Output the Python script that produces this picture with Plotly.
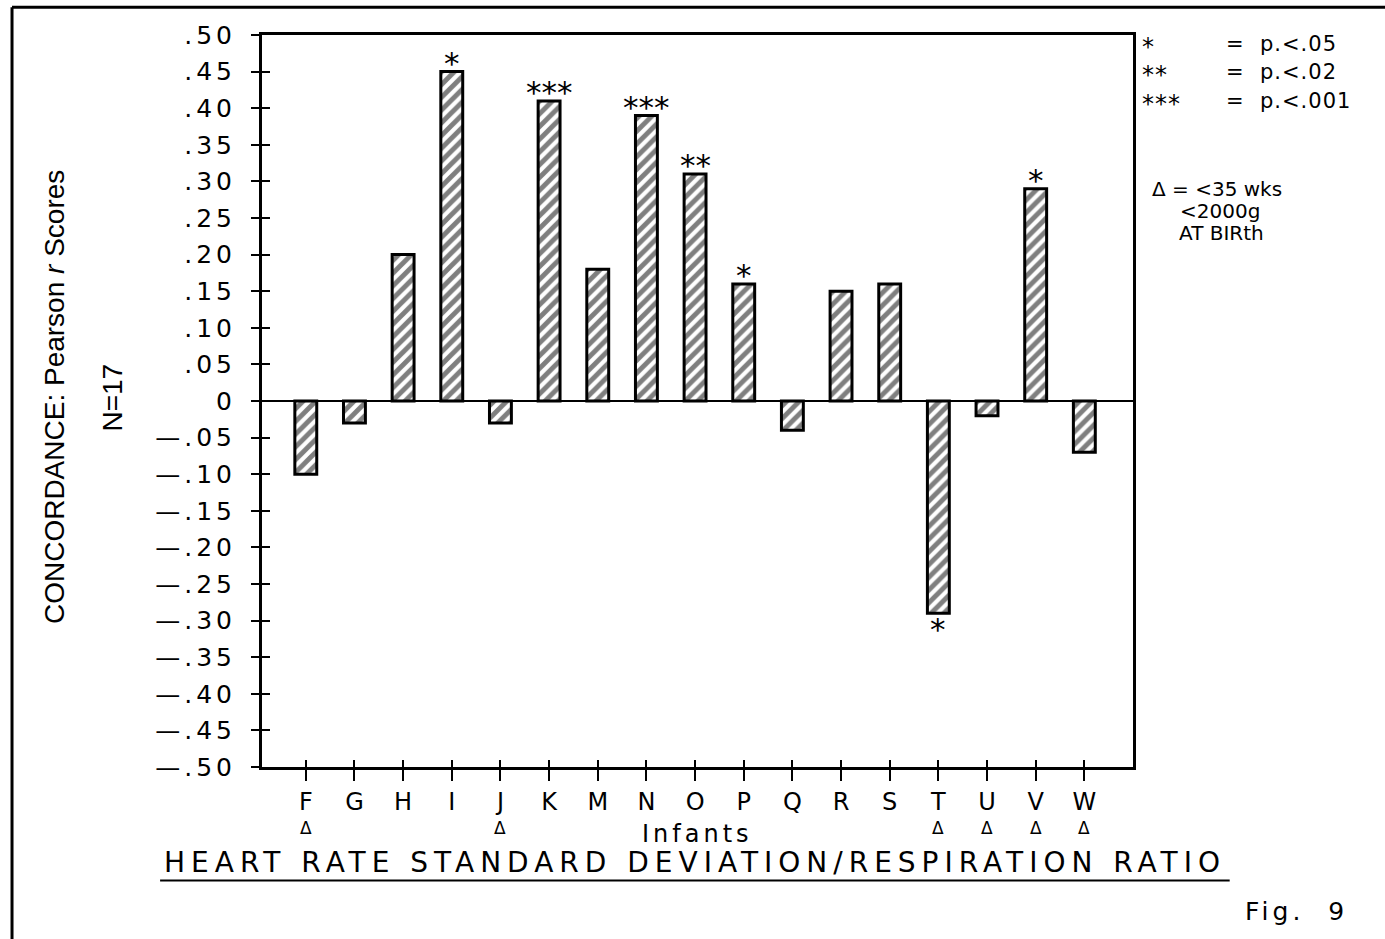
import plotly.graph_objects as go

infants = ["F", "G", "H", "I", "J", "K", "M", "N", "O", "P", "Q", "R", "S", "T", "U", "V", "W"]
r_scores = [-0.10, -0.03, 0.20, 0.45, -0.03, 0.41, 0.18, 0.39, 0.31, 0.16, -0.04, 0.15, 0.16, -0.29, -0.02, 0.29, -0.07]
significance = ["", "", "", "*", "", "***", "", "***", "**", "*", "", "", "", "*", "", "*", ""]
premature = [True, False, False, False, True, False, False, False, False, False, False, False, False, True, True, True, True]

y_tickvals = [0.50, 0.45, 0.40, 0.35, 0.30, 0.25, 0.20, 0.15, 0.10, 0.05, 0.0,
              -0.05, -0.10, -0.15, -0.20, -0.25, -0.30, -0.35, -0.40, -0.45, -0.50]
y_ticktext = [".50", ".45", ".40", ".35", ".30", ".25", ".20", ".15", ".10", ".05", "0",
              "—.05", "—.10", "—.15", "—.20", "—.25", "—.30", "—.35", "—.40", "—.45", "—.50"]

legend_stars = ["*", "**", "***"]
legend_texts = ["p.&lt;.05", "p.&lt;.02", "p.&lt;.001"]
legend_rows_y = [0.988, 0.949, 0.910]


def spaced(t, px):
    return f"<span style='letter-spacing:{px}px'>{t}</span>"


TICKFONT = dict(family="DejaVu Sans", size=25, color="black")
HAND = dict(family="DejaVu Sans", size=21, color="black")

fig = go.Figure()
fig.add_trace(go.Bar(
    x=infants, y=r_scores, width=0.45,
    marker=dict(color="white",
                line=dict(color="black", width=3),
                pattern=dict(shape="/", fgcolor="black", bgcolor="white", size=9, solidity=0.55)),
    showlegend=False, hoverinfo="x+y",
))
# invisible trace on the overlay axes (for crossing tick marks)
fig.add_trace(go.Scatter(x=infants, y=[0] * len(infants), xaxis="x2", yaxis="y2",
                         mode="markers", marker=dict(opacity=0), showlegend=False, hoverinfo="skip"))

# significance stars
for c, v, s in zip(infants, r_scores, significance):
    if s:
        fig.add_annotation(x=c, y=v, text=s, showarrow=False, xanchor="center",
                           yanchor="bottom" if v > 0 else "top",
                           yshift=-11 if v > 0 else 4,
                           font=dict(family="DejaVu Sans", size=31, color="black"))

# premature-birth markers under the infant letters
for c, p in zip(infants, premature):
    if p:
        fig.add_annotation(x=c, yref="paper", y=-0.0835, text="Δ", showarrow=False,
                           xanchor="center", yanchor="middle",
                           font=dict(family="DejaVu Sans", size=17, color="black"))

fig.update_layout(
    width=1385, height=939,
    margin=dict(l=262, r=252, t=35, b=172),
    paper_bgcolor="white", plot_bgcolor="white",
    xaxis=dict(
        range=[-0.9, 17.0], tickmode="array", tickvals=infants, ticktext=infants,
        showline=True, linecolor="black", linewidth=3, mirror=True,
        ticks="outside", ticklen=11, tickwidth=2, tickcolor="black",
        tickfont=dict(family="DejaVu Sans", size=24, color="black"),
        showgrid=False, zeroline=False, tickangle=0,
    ),
    xaxis2=dict(
        overlaying="x", side="bottom", matches="x", range=[-0.9, 17.0],
        tickmode="array", tickvals=infants, showticklabels=False,
        ticks="inside", ticklen=7, tickwidth=2, tickcolor="black",
        showline=False, showgrid=False, zeroline=False,
    ),
    yaxis=dict(
        range=[-0.5, 0.5], tickmode="array", tickvals=y_tickvals,
        ticktext=[spaced(t, 4) for t in y_ticktext],
        showline=True, linecolor="black", linewidth=3, mirror=True,
        ticks="outside", ticklen=8, tickwidth=2, tickcolor="black",
        tickfont=TICKFONT, ticklabelstandoff=10,
        showgrid=False, zeroline=True, zerolinecolor="black", zerolinewidth=2,
    ),
    yaxis2=dict(
        overlaying="y", side="left", matches="y", range=[-0.5, 0.5],
        tickmode="array", tickvals=y_tickvals, showticklabels=False,
        ticks="inside", ticklen=8, tickwidth=2, tickcolor="black",
        showline=False, showgrid=False, zeroline=False,
    ),
    showlegend=False,
)

# y-axis title lines
fig.add_annotation(xref="paper", yref="paper", x=-0.238, y=0.505, textangle=-90,
                   xanchor="center", yanchor="middle",
                   text="CONCORDANCE: Pearson <i>r</i> Scores", showarrow=False,
                   font=dict(family="Liberation Sans Narrow, Liberation Sans", size=28, color="black"))
fig.add_annotation(xref="paper", yref="paper", x=-0.172, y=0.505, textangle=-90,
                   xanchor="center", yanchor="middle",
                   text="N=17", showarrow=False,
                   font=dict(family="Liberation Sans Narrow, Liberation Sans", size=28, color="black"))

# x-axis titles
fig.add_annotation(xref="paper", yref="paper", x=0.4995, y=-0.092, text=spaced("Infants", 4),
                   showarrow=False, xanchor="center", yanchor="middle",
                   font=dict(family="DejaVu Sans", size=24, color="black"))
fig.add_annotation(xref="paper", yref="paper", x=0.497, y=-0.131,
                   text=spaced("HEART RATE STANDARD DEVIATION/RESPIRATION RATIO", 6),
                   showarrow=False, xanchor="center", yanchor="middle",
                   font=dict(family="DejaVu Sans", size=28, color="black"))
fig.add_shape(type="line", xref="paper", yref="paper", x0=-0.117, x1=1.111, y0=-0.155, y1=-0.155,
              line=dict(color="black", width=2))
fig.add_annotation(xref="paper", yref="paper", x=1.188, y=-0.198, text=spaced("Fig.  9", 4),
                   showarrow=False, xanchor="center", yanchor="middle",
                   font=dict(family="DejaVu Sans", size=25, color="black"))

# handwritten key
for s, t, yy in zip(legend_stars, legend_texts, legend_rows_y):
    fig.add_annotation(xref="paper", yref="paper", x=1.008, y=yy - 0.004, text=spaced(s, 1),
                       showarrow=False, xanchor="left", yanchor="middle",
                       font=dict(family="DejaVu Sans", size=24, color="black"))
    fig.add_annotation(xref="paper", yref="paper", x=1.117, y=yy, text="=", showarrow=False,
                       xanchor="center", yanchor="middle", font=HAND)
    fig.add_annotation(xref="paper", yref="paper", x=1.144, y=yy, text=spaced(t, 1), showarrow=False,
                       xanchor="left", yanchor="middle", font=HAND)
fig.add_annotation(xref="paper", yref="paper", x=1.019, y=0.790, text="Δ = &lt;35 wks", showarrow=False,
                   xanchor="left", yanchor="middle", font=dict(family="DejaVu Sans", size=20, color="black"))
fig.add_annotation(xref="paper", yref="paper", x=1.052, y=0.760, text="&lt;2000g", showarrow=False,
                   xanchor="left", yanchor="middle", font=dict(family="DejaVu Sans", size=20, color="black"))
fig.add_annotation(xref="paper", yref="paper", x=1.050, y=0.730, text="AT BIRth", showarrow=False,
                   xanchor="left", yanchor="middle", font=dict(family="DejaVu Sans", size=20, color="black"))

# page frame (top and left border)
fig.add_shape(type="line", xref="paper", yref="paper", x0=-0.287, x1=1.29, y0=1.038, y1=1.038,
              line=dict(color="black", width=3))
fig.add_shape(type="line", xref="paper", yref="paper", x0=-0.287, x1=-0.287, y0=1.038, y1=-0.24,
              line=dict(color="black", width=3))

fig.write_html("out.html")
